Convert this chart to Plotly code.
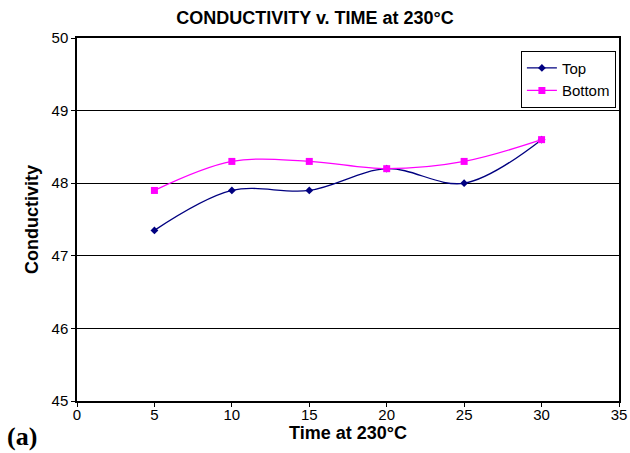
import plotly.graph_objects as go

time = [5, 10, 15, 20, 25, 30]
top = [47.35, 47.9, 47.9, 48.2, 48.0, 48.6]
bottom = [47.9, 48.3, 48.3, 48.2, 48.3, 48.6]
x_ticks = [0, 5, 10, 15, 20, 25, 30, 35]
y_ticks = [45, 46, 47, 48, 49, 50]

fig = go.Figure()
fig.add_trace(go.Scatter(x=time, y=top, name="Top", mode="lines+markers",
                         line=dict(color="#000080", width=1.3, shape="spline", smoothing=1),
                         marker=dict(symbol="diamond", size=6, color="#000080")))
fig.add_trace(go.Scatter(x=time, y=bottom, name="Bottom", mode="lines+markers",
                         line=dict(color="#FF00FF", width=1.3, shape="spline", smoothing=1),
                         marker=dict(symbol="square", size=7, color="#FF00FF")))

font = "Liberation Sans, Arial, sans-serif"
fig.update_layout(
    width=630, height=453,
    margin=dict(l=77, r=11, t=38, b=52, autoexpand=False),
    paper_bgcolor="white", plot_bgcolor="white",
    font=dict(family=font, size=15, color="black"),
    title=dict(text="<b>CONDUCTIVITY v. TIME at 230°C</b>", x=0.5, xanchor="center",
               y=0.96, yanchor="middle", font=dict(size=18, family=font), automargin=False),
    xaxis=dict(range=[0, 35], tickvals=x_ticks, showgrid=False, zeroline=False,
               showline=True, linecolor="black", linewidth=1.5, mirror=True,
               ticks="outside", ticklen=4, tickcolor="black", automargin=False,
               tickfont=dict(size=15), ticklabelstandoff=-5,
               title=dict(text="<b>Time at 230°C</b>", font=dict(size=18), standoff=2)),
    yaxis=dict(range=[45, 50], tickvals=y_ticks, showgrid=True, gridcolor="black",
               gridwidth=1, zeroline=False,
               showline=True, linecolor="black", linewidth=1.5, mirror=True,
               ticks="outside", ticklen=4, tickcolor="black", automargin=False,
               tickfont=dict(size=15),
               title=dict(text="<b>Conductivity</b>", font=dict(size=18), standoff=8)),
    legend=dict(x=0.819, y=0.965, xanchor="left", yanchor="top",
                bgcolor="white", bordercolor="black", borderwidth=1,
                font=dict(size=15), tracegroupgap=0, itemwidth=30),
    showlegend=True,
)
fig.add_annotation(text="<b>(a)</b>", xref="paper", yref="paper", x=-0.132, y=-0.097,
                   xanchor="left", yanchor="middle", showarrow=False,
                   font=dict(family="Liberation Serif, Times New Roman, serif", size=26))
fig.write_html("out.html", config={"displayModeBar": False},
               post_script="document.body.style.margin='0px';")
